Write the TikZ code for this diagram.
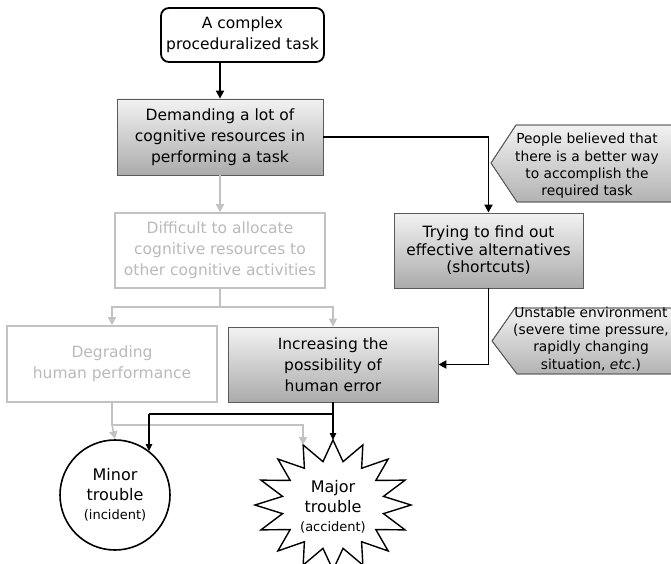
\documentclass[tikz,border=0pt]{standalone}
\usepackage{fontspec}
\setmainfont{DejaVu Sans}
\usetikzlibrary{arrows.meta}
\definecolor{lgray}{HTML}{C2C2C2}
\definecolor{lgtext}{HTML}{BABABA}
\definecolor{bordergray}{HTML}{5A5A5A}
\begin{document}
\begin{tikzpicture}[x=1pt,y=-1pt,
  mainfont/.style={font=\fontsize{15.5}{21}\selectfont},
  shadedbox/.style={draw=bordergray, line width=0.8pt, top color=black!5, bottom color=black!33, align=center, inner sep=2pt, mainfont},
  graybox/.style={draw=lgray, line width=1.6pt, fill=white, text=lgtext, align=center, inner sep=2pt, mainfont},
  blk/.style={line width=1.8pt, -{Triangle[length=8pt,width=8pt]}},
  blkthin/.style={line width=1.1pt, -{Triangle[length=7pt,width=6.5pt]}},
  blkline/.style={line width=1.1pt},
  gry/.style={draw=lgray, line width=1.6pt, -{Triangle[length=8pt,width=8pt]}},
  gryline/.style={draw=lgray, line width=1.6pt},
  callout/.style={draw=bordergray, line width=0.8pt, top color=black!5, bottom color=black!30},
  callouttext/.style={align=center, font=\fontsize{13.8}{17.3}\selectfont},
]
\clip (0,0) rectangle (671,564);

% nodes
\node[draw, line width=1.8pt, rounded corners=8pt, fill=white, minimum width=163pt, minimum height=54pt, align=center, mainfont] (task) at (242.5,35) {A complex\\proceduralized task};
\node[shadedbox, minimum width=206pt, minimum height=76pt] (demand) at (220,137) {Demanding a lot of\\cognitive resources in\\performing a task};
\node[graybox, minimum width=210pt, minimum height=75pt] (difficult) at (220,250.5) {Difficult to allocate\\cognitive resources to\\other cognitive activities};
\node[shadedbox, minimum width=189pt, minimum height=75pt, font=\fontsize{15.5}{17.5}\selectfont] (trying) at (488.5,250.5) {Trying to find out\\effective alternatives\\(shortcuts)};
\node[graybox, minimum width=210pt, minimum height=76pt] (degrading) at (112,364) {Degrading\\human performance};
\node[shadedbox, minimum width=210pt, minimum height=75pt] (increasing) at (333,364.5) {Increasing the\\possibility of\\human error};

% callouts
\shade[callout] (491,163) -- (516,125) -- (690,125) -- (690,202) -- (517,202) -- cycle;
\draw[bordergray, line width=0.8pt] (491,163) -- (516,125) -- (690,125) -- (690,202) -- (517,202) -- cycle;
\node[callouttext] (belief) at (587,166) {People believed that\\there is a better way\\to accomplish the\\required task};
\shade[callout] (492,341) -- (515,308) -- (690,308) -- (690,374) -- (517,374) -- cycle;
\draw[bordergray, line width=0.8pt] (492,341) -- (515,308) -- (690,308) -- (690,374) -- (517,374) -- cycle;
\node[callouttext] (unstable) at (591,339) {Unstable environment\\(severe time pressure,\\rapidly changing\\situation, \textit{etc}.)};

% outcome shapes
\node[circle, draw, line width=1.6pt, fill=white, minimum size=110pt, inner sep=0pt, align=center, font=\fontsize{16}{19.5}\selectfont] (minor) at (115,495) {\raisebox{0pt}{}Minor\\trouble\\{\fontsize{13}{19.5}\selectfont(incident)}};
\draw[line width=1.4pt, fill=white] plot[samples at={0,...,31}, variable=\k]
  ({333 + (isodd(\k) ? 0.66*78 : 78)*cos(90+\k*11.25)}, {505 - (isodd(\k) ? 0.68*65 : 65)*sin(90+\k*11.25)}) -- cycle;
\node[align=center, font=\fontsize{16}{19.5}\selectfont] (major) at (333,507) {Major\\trouble\\{\fontsize{13}{19.5}\selectfont(accident)}};
\coordinate (majortop) at (333,440);
\coordinate (majorleft) at (303,445);

% gray connectors
\coordinate (split) at (220,307);
\coordinate (g2) at (112,425);
\draw[gry] (demand.south) -- (difficult.north);
\draw[gryline] (difficult.south) -- (split);
\draw[gry] (split) -| (degrading.north);
\draw[gry] (split) -| (increasing.north);
\draw[gryline] (degrading.south) -- (g2);
\draw[gry] (g2) -- (minor.north);
\draw[gry] (g2) -| (majorleft);

% black connectors
\draw[blk] (task.south -| demand.north) -- (demand.north);
\draw[blk] (demand.east) -| (trying.north);
\draw[blk] (trying.south) |- (increasing.east);
\coordinate (b1) at (333,414);
\coordinate (b2) at (149,414);
\draw[blkline] (increasing.south) -- (b1) -- (b2);
\draw[blkthin] (b2) -- (b2 |- minor.52);
\draw[blkthin] (increasing.south) -- (majortop);
\end{tikzpicture}
\end{document}
